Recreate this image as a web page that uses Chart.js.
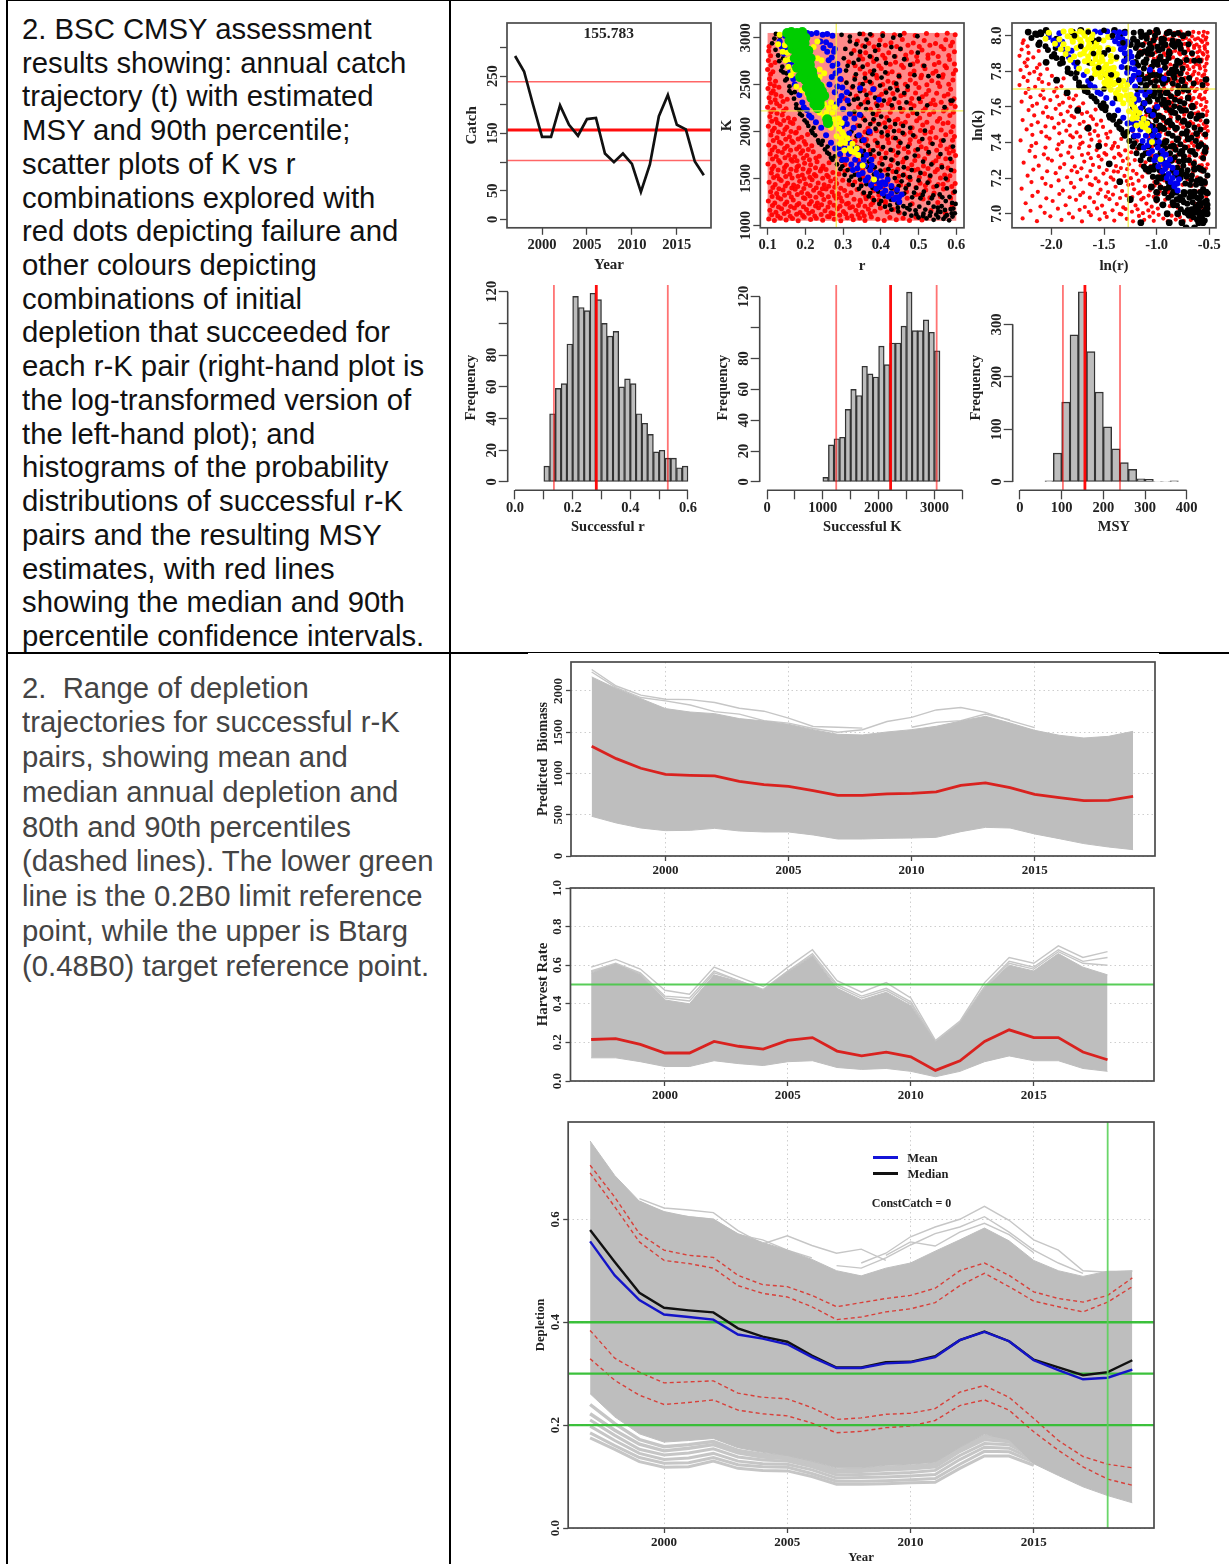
<!DOCTYPE html>
<html><head><meta charset="utf-8"><title>BSC CMSY assessment</title>
<script src="https://cdn.jsdelivr.net/npm/chart.js@4"></script>
<style>
html,body{margin:0;padding:0;background:#fff;width:1229px;height:1564px;overflow:hidden}
#page{position:relative;width:1229px;height:1564px}
canvas{position:absolute;filter:blur(.5px)}
.rule{position:absolute;background:#000}
.cell{position:absolute;left:22px;font-family:"Liberation Sans",Arial,sans-serif;font-size:29.3px;white-space:pre}
.lab{position:absolute;font:bold 12px "Liberation Serif",serif;color:#222;white-space:pre;transform:translate(-50%,-50%);filter:blur(.3px)}
</style></head><body><div id="page">
<div class="rule" style="left:6px;top:0;width:2px;height:1564px"></div>
<div class="rule" style="left:6px;top:0;width:1223px;height:1px"></div>
<div class="rule" style="left:449px;top:0;width:2px;height:1564px"></div>
<div class="rule" style="left:6px;top:652px;width:522px;height:2px"></div>
<div class="rule" style="left:528px;top:652px;width:631px;height:1px"></div>
<div class="rule" style="left:1159px;top:652px;width:70px;height:2px"></div>
<div class="cell" style="top:12px;line-height:33.72px;color:#111">2. BSC CMSY assessment
results showing: annual catch
trajectory (t) with estimated
MSY and 90th percentile;
scatter plots of K vs r
combinations explored with
red dots depicting failure and
other colours depicting
combinations of initial
depletion that succeeded for
each r-K pair (right-hand plot is
the log-transformed version of
the left-hand plot); and
histograms of the probability
distributions of successful r-K
pairs and the resulting MSY
estimates, with red lines
showing the median and 90th
percentile confidence intervals.</div>
<div class="cell" style="top:670.6px;line-height:34.75px;color:#444">2.  Range of depletion
trajectories for successful r-K
pairs, showing mean and
median annual depletion and
80th and 90th percentiles
(dashed lines). The lower green
line is the 0.2B0 limit reference
point, while the upper is Btarg
(0.48B0) target reference point.</div>
</div>
<script>
// ---------- catch panel ----------
const catchYears=[1997,1998,1999,2000,2001,2002,2003,2004,2005,2006,2007,2008,2009,2010,2011,2012,2013,2014,2015,2016,2017,2018];
const catchValues=[285,258,200,144,144,199,165,146,175,177,115,100,115,97,48,96,180,217,165,157,101,77];
const msyLines=[103,155.783,240];
const catchTitle="155.783";
// ---------- histograms: bin centres and counts ----------
const histRCentres=[.11,.13,.15,.17,.19,.21,.23,.25,.27,.29,.31,.33,.35,.37,.39,.41,.43,.45,.47,.49,.51,.53,.55,.57,.59];
const histRCounts=[10,43,59,62,87,117,110,108,119,115,100,92,95,60,65,62,43,37,30,19,20,15,15,9,10];
const histRLines=[.135,.282,.53];
const histKCentres=[1050,1150,1250,1350,1450,1550,1650,1750,1850,1950,2050,2150,2250,2350,2450,2550,2650,2750,2850,2950,3050];
const histKCounts=[3,24,28,29,47,60,56,75,70,68,88,76,90,90,101,123,98,98,105,97,85];
const histKLines=[1240,2215,3040];
const histMCentres=[70,90,110,130,150,170,190,210,230,250,270,290,310,330,350,370];
const histMCounts=[2,55,152,280,362,248,171,105,63,37,24,6,5,1,1,2];
const histMLines=[103,155.783,240];
// ---------- trajectories ----------
const years=[1997,1998,1999,2000,2001,2002,2003,2004,2005,2006,2007,2008,2009,2010,2011,2012,2013,2014,2015,2016,2017,2018,2019];
const bioUpper=[2170,2030,1907,1786,1745,1725,1665,1636,1596,1531,1475,1467,1503,1531,1572,1636,1693,1612,1523,1463,1430,1450,1511];
const bioLower=[481,400,339,307,311,335,303,291,291,255,206,206,214,218,226,295,347,339,267,210,150,109,77];
const bioMedian=[1329,1180,1063,990,978,970,905,865,844,792,735,735,752,760,776,857,885,828,747,707,671,675,723];
const bioOut1=[2260,2060,1950,1900,1895,1860,1790,1755,1670,1570,1560,1550];
const bioOut2=[null,null,null,null,null,null,null,null,null,null,1500,1530,1630,1680,1770,1800,1740,1640,1555];
const bioOut3=[2230,2040,1920,1880,1830,1750,1720,1640,1610,1545,1500];
const bioOut4=[null,null,null,null,null,null,null,null,null,null,null,null,null,1560,1620,1640,1720,1650];
const hrUpper=[.56,.605,.55,.42,.40,.55,.515,.47,.565,.645,.48,.42,.46,.39,.2,.3,.48,.6,.57,.66,.59,.55];
const hrLower=[.12,.12,.1,.075,.075,.105,.09,.08,.1,.105,.07,.06,.065,.05,.022,.05,.1,.13,.105,.105,.065,.05];
const hrMedian=[.215,.22,.19,.145,.145,.205,.18,.165,.21,.225,.155,.13,.15,.125,.055,.105,.205,.265,.225,.225,.15,.11];
const hrOut1=[.59,.63,.58,.47,.45,.59,.54,.49,.59,.68,.52,.46,.51,.43,.21,.31,.51,.64,.61,.70,.64,.67];
const hrOut2=[.57,.61,.56,.44,.43,.57,.52,.47,.57,.66,.5,.44,.48,.41,.205,.305,.49,.62,.59,.68,.62,.64];
const hrOut3=[.565,.605,.555,.43,.415,.56,.52,.475,.57,.65,.49,.43,.47,.4,.2,.3,.485,.61,.58,.67,.61,.6];
const hrLimit=[.5];
const depUpper=[.752,.685,.635,.615,.605,.6,.572,.555,.54,.522,.5,.49,.505,.515,.538,.56,.583,.558,.52,.5,.489,.499,.499];
const depLower=[.261,.216,.183,.167,.17,.174,.156,.147,.141,.13,.117,.117,.122,.124,.128,.157,.182,.172,.125,.102,.08,.063,.049];
const depMean=[.557,.491,.443,.415,.41,.405,.376,.368,.357,.332,.311,.311,.32,.322,.332,.365,.381,.363,.326,.307,.289,.292,.308];
const depMedian=[.579,.517,.457,.428,.423,.419,.388,.372,.362,.335,.312,.312,.322,.323,.334,.365,.382,.363,.327,.312,.297,.303,.326];
const depQ90hi=[.705,.643,.572,.54,.53,.526,.491,.473,.469,.452,.43,.438,.446,.452,.466,.5,.515,.491,.459,.446,.439,.452,.486];
const depQ80hi=[.69,.624,.556,.52,.514,.505,.471,.456,.449,.43,.405,.41,.42,.426,.438,.471,.495,.469,.441,.43,.42,.439,.469];
const depQ80lo=[.384,.33,.303,.282,.284,.286,.262,.254,.251,.234,.211,.214,.221,.223,.232,.264,.277,.254,.213,.17,.139,.124,.117];
const depQ90lo=[.329,.287,.258,.24,.244,.249,.229,.222,.218,.204,.185,.188,.195,.198,.209,.238,.249,.229,.187,.151,.119,.095,.083];
const depOut1=[null,null,.64,.622,.618,.613,.578,.552,.568,.549,.534,.542,.52];
const depOut2=[null,null,null,null,null,null,null,null,null,null,null,.515,.534,.566,.585,.6,.625,.598,.56,.54,.5,.497,.5];
const depOut3=[null,null,null,null,null,null,null,null,null,null,.51,.505,.525,.55,.572,.585,.605,.575,.54,.515,.495];
const depOut4=[null,null,.635,.612,.605,.6,.57,.56,.54,.525];
const depOut5=[null,null,null,null,null,null,null,null,null,null,null,null,.53,.556,.548,.575,.592,.57,.535];
const depLow1=[.175,.153,.129,.118,.119,.13,.116,.112,.111,.1,.085,.085,.086,.088,.089,.116,.14,.14,.122];
const depLow2=[.185,.16,.137,.126,.127,.137,.123,.119,.118,.106,.091,.091,.092,.094,.096,.124,.149,.148,.128];
const depLow3=[.198,.17,.145,.133,.136,.145,.13,.125,.124,.113,.097,.098,.099,.101,.104,.133,.157,.155,.133];
const depLow4=[.21,.18,.153,.142,.146,.154,.138,.132,.13,.119,.103,.104,.106,.108,.112,.141,.164,.162,.137];
const depLow5=[.222,.19,.163,.15,.155,.162,.146,.138,.135,.124,.109,.11,.113,.115,.119,.149,.172,.168,.14];
const depLow6=[.24,.203,.172,.158,.162,.168,.151,.143,.138,.127,.113,.114,.118,.12,.124,.154,.178,.172,.142];
const depRefLines=[.2,.3,.4];
const depRefYear=[2018];
// ---------- scatter points, read by eye: r x 1000, K, r x 1000, K ... ----------
const failRK=[
103,1068,118,1052,134,1081,149,1059,166,1074,181,1050,197,1088,214,1063,229,1077,246,1055,263,1092,277,1066,294,1051,311,1083,327,1060,344,1079,358,1054,375,1090,392,1067,409,1052,424,1085,441,1061,459,1076,476,1053,493,1089,509,1058,
106,1163,122,1142,137,1178,155,1150,171,1186,186,1139,203,1171,219,1148,235,1190,252,1158,268,1136,285,1177,301,1149,318,1188,334,1161,351,1141,367,1174,384,1153,399,1186,417,1144,433,1170,449,1135,
102,1262,119,1240,135,1281,151,1249,168,1272,183,1235,199,1288,216,1255,232,1239,249,1276,265,1246,281,1290,297,1258,314,1237,329,1279,346,1251,361,1284,379,1243,395,1268,412,1236,
108,1358,124,1340,141,1377,157,1346,173,1385,190,1352,206,1337,222,1374,238,1345,255,1388,271,1356,288,1339,304,1372,321,1350,337,1383,353,1342,
104,1461,120,1436,136,1478,153,1449,169,1430,185,1470,201,1442,218,1486,234,1453,250,1433,267,1475,283,1447,299,1482,316,1438,331,1464,
110,1560,126,1531,143,1574,159,1545,176,1586,192,1537,208,1568,224,1542,240,1581,257,1534,273,1565,289,1549,305,1578,
101,1655,117,1630,133,1672,150,1641,166,1684,182,1636,198,1662,214,1647,231,1680,247,1633,263,1669,
107,1761,123,1735,139,1778,156,1748,172,1731,188,1770,204,1744,221,1785,237,1738,
103,1856,119,1832,136,1875,152,1845,168,1883,184,1838,201,1866,217,1849,
109,1963,125,1934,141,1977,158,1946,174,1985,190,1939,206,1968,
102,2058,118,2035,134,2076,151,2047,167,2085,183,2039,
106,2161,122,2132,139,2177,155,2144,171,2130,
100,2259,116,2236,132,2272,149,2243,
104,2361,120,2338,136,2377,152,2345,
101,2458,115,2434,130,2472,
105,2563,121,2536,
100,2661,114,2638,
102,2758,120,2735,
103,2859,
345,1268,378,1292,412,1255,447,1248,483,1231,512,1282,533,1160,551,1245,571,1132,589,1207,
381,1370,402,1345,436,1392,468,1360,493,1331,519,1379,541,1345,566,1388,592,1350,
365,1480,391,1440,417,1465,452,1432,478,1488,504,1450,528,1472,552,1436,577,1485,597,1447,
338,1552,371,1585,401,1540,432,1576,461,1544,489,1588,516,1550,544,1572,569,1538,594,1581,
305,1650,341,1682,362,1640,397,1665,426,1635,458,1677,482,1648,513,1633,538,1668,561,1640,588,1680,
293,1745,324,1780,356,1750,382,1735,414,1772,441,1748,473,1781,499,1740,526,1766,553,1733,581,1772,598,1745,
296,1862,333,1840,359,1875,392,1848,421,1882,447,1845,476,1868,507,1838,532,1880,558,1852,585,1835,
316,1960,348,1941,373,1978,403,1950,433,1935,462,1971,491,1945,517,1982,546,1938,572,1966,595,1948,
338,2065,366,2035,397,2078,425,2048,454,2082,483,2042,511,2070,537,2040,565,2085,591,2055,
329,2170,354,2140,388,2178,416,2150,445,2132,472,2168,503,2145,529,2183,556,2138,583,2172,
341,2262,373,2238,402,2280,431,2250,459,2235,488,2276,518,2245,544,2285,573,2240,597,2268,
305,2352,335,2378,364,2345,395,2370,424,2340,453,2382,482,2352,510,2372,539,2336,568,2378,594,2350,
324,2470,356,2438,383,2462,413,2435,442,2478,471,2445,501,2468,527,2436,556,2480,585,2450,
296,2552,331,2578,361,2540,390,2570,419,2535,449,2582,478,2548,506,2572,535,2540,563,2578,591,2548,
345,2665,372,2640,401,2672,430,2638,460,2682,488,2645,517,2668,546,2642,574,2680,598,2652,
315,2740,352,2772,381,2745,411,2780,439,2738,468,2770,497,2748,525,2782,554,2736,582,2768,
329,2862,360,2838,393,2870,421,2840,452,2880,481,2845,509,2868,538,2835,567,2878,595,2850,
338,2965,368,2940,398,2975,427,2945,457,2980,486,2942,515,2970,545,2938,572,2978,590,2950,
353,3040,376,3025,405,3045,436,3030,462,3048,491,3022,521,3044,549,3028,576,3046,597,3030];
const failRK2=[
111,1115,127,1102,144,1128,160,1098,177,1121,193,1107,209,1130,225,1101,242,1118,259,1096,274,1126,291,1109,307,1124,323,1100,340,1117,356,1103,372,1129,
113,1212,129,1196,146,1225,161,1203,178,1218,195,1200,211,1228,227,1207,243,1221,260,1198,276,1215,292,1204,309,1230,325,1199,341,1214,358,1206,374,1222,
112,1310,128,1297,145,1322,163,1304,179,1329,195,1295,212,1315,228,1300,244,1328,261,1306,277,1318,293,1296,310,1320,
114,1405,130,1392,147,1420,164,1398,180,1415,196,1394,213,1425,229,1402,245,1391,262,1417,278,1408,294,1396,
116,1510,131,1495,148,1522,165,1505,181,1525,197,1498,212,1515,228,1528,246,1503,261,1520,279,1496,
112,1605,128,1590,145,1618,162,1598,178,1622,194,1602,211,1590,227,1615,243,1604,255,1596,
113,1708,129,1692,146,1722,162,1703,178,1690,195,1716,211,1700,228,1718,
112,1805,128,1790,145,1820,161,1800,177,1815,193,1795,208,1808,
115,1905,131,1890,148,1918,164,1900,181,1922,197,1895,
113,2010,129,1995,146,2022,162,2002,176,1992,
111,2110,126,2095,143,2118,160,2100,
109,2210,125,2195,142,2218,
108,2312,124,2298,141,2320,
110,2410,122,2395,
107,2510,118,2488,
108,2610,
109,2705,
108,2808,
104,2905,
360,1310,395,1322,430,1300,470,1290,505,1328,530,1295,558,1308,585,1292,
348,1435,378,1420,405,1412,442,1475,468,1418,493,1405,518,1425,540,1410,565,1440,588,1415,
352,1520,385,1512,418,1508,448,1525,472,1510,502,1515,530,1520,558,1505,583,1530,
320,1610,352,1598,380,1605,412,1592,445,1600,472,1608,498,1600,525,1606,550,1595,578,1612,
310,1710,338,1700,372,1692,402,1715,432,1695,462,1708,490,1692,516,1712,546,1690,572,1710,
318,1810,345,1820,372,1800,402,1815,432,1798,462,1818,492,1802,520,1820,548,1800,575,1815,592,1792,
332,1900,362,1915,385,1905,418,1920,448,1898,478,1912,502,1895,530,1925,560,1902,590,1908,
358,1995,388,2010,418,1998,448,2008,478,1992,505,2012,532,1995,560,2018,586,1998,
380,2110,410,2095,438,2112,465,2098,495,2115,522,2100,550,2110,578,2095,
395,2220,425,2205,455,2215,485,2200,512,2222,540,2208,566,2218,592,2205,
358,2315,388,2300,420,2298,448,2310,478,2302,505,2318,532,2295,560,2312,586,2300,
372,2410,402,2398,432,2405,462,2395,492,2412,520,2398,548,2408,578,2398,
345,2505,375,2515,405,2500,435,2520,465,2505,492,2512,522,2498,552,2518,580,2505,
358,2615,388,2600,418,2618,448,2602,478,2612,508,2600,538,2620,565,2605,592,2615,
332,2700,365,2715,395,2702,425,2718,455,2705,485,2720,512,2700,542,2715,570,2702,595,2720,
345,2810,375,2795,405,2812,438,2798,466,2815,495,2800,525,2815,552,2798,580,2810,
352,2915,382,2902,412,2918,442,2905,472,2920,502,2905,530,2920,560,2905,585,2915];
const blackRK=[
118,2990,112,2940,121,2870,128,2810,131,2750,139,2690,142,2630,151,2560,158,2480,163,2410,170,2350,176,2290,184,2230,191,2170,198,2120,208,2060,216,2010,226,1960,234,1905,243,1860,252,1810,263,1760,272,1700,284,1650,293,1600,304,1540,316,1480,326,1430,342,1390,355,1350,368,1310,382,1270,396,1230,411,1200,428,1170,446,1150,463,1125,481,1105,500,1085,521,1075,540,1060,552,1085,566,1070,581,1055,590,1095,596,1130,575,1110,547,1115,558,1145,
122,3040,132,3010,141,2780,150,2620,172,2420,193,2240,222,2040,246,1900,259,1840,278,1735,298,1630,322,1520,348,1420,372,1345,401,1260,424,1215,445,1190,470,1185,492,1160,513,1125,532,1140,561,1205,585,1175,598,1230,
296,3030,318,3010,344,3040,372,3035,405,3020,433,3000,451,3025,497,3015,318,2960,335,2930,362,2980,395,2920,428,2900,452,2880,306,2880,322,2830,345,2850,371,2800,389,2770,436,2800,478,2710,302,2780,328,2730,352,2690,382,2650,412,2630,448,2590,489,2600,526,2590,
308,2650,334,2610,358,2570,371,2530,398,2490,425,2460,444,2440,462,2410,501,2350,590,2330,309,2520,326,2480,345,2430,362,2390,385,2360,408,2330,429,2280,451,2250,480,2240,
318,2400,329,2340,347,2290,361,2240,379,2190,401,2160,422,2120,438,2080,459,2060,478,2040,517,2010,348,2170,358,2120,372,2080,386,2030,402,1990,418,1960,439,1930,452,1880,472,1840,498,1810,527,1780,558,1760,584,1710,
322,2000,336,1950,349,1900,366,1850,380,1800,395,1765,412,1720,428,1700,445,1660,461,1620,482,1590,505,1560,531,1530,572,1500,352,1740,368,1680,384,1620,399,1585,418,1540,437,1505,455,1470,474,1435,494,1400,514,1360,539,1320,563,1300,589,1240,
442,1360,462,1340,483,1300,505,1290,526,1240,551,1190,570,1165,592,1180,478,1220,502,1200,518,1170,540,1200,572,1260,498,2840,515,2700,569,2260,585,2330,553,2590];
const blackRK2=[
312,2700,341,2765,358,2905,385,2860,414,2730,462,2770,331,2555,352,2505,378,2610,402,2575,441,2510,471,2480,316,2290,339,2350,366,2310,391,2275,414,2415,436,2350,468,2310,496,2190,523,2280,
330,2210,344,2060,366,1985,381,2130,394,2080,412,2045,435,2005,458,1985,486,1960,510,1920,537,1870,566,1905,591,1840,
338,1830,355,1795,372,1760,391,1880,406,1835,426,1805,446,1775,468,1720,490,1745,512,1680,534,1650,562,1620,586,1590,
366,1620,382,1545,404,1650,420,1600,441,1570,459,1535,477,1515,500,1480,524,1455,548,1420,575,1395,596,1360,
388,1480,408,1455,428,1395,447,1420,466,1395,488,1350,511,1325,535,1290,556,1330,582,1305,
296,1690,312,1590,331,1540,345,1490,362,1440,378,1400,393,1360,410,1310,427,1275,444,1235,460,1205,476,1170,494,1120,512,1100,530,1105,552,1150,571,1095,588,1130,
258,1775,268,1720,236,1880,219,1985,204,2095,186,2185,176,2250,158,2430,147,2545,136,2650];
const blueRK=[
146,3020,138,2900,152,2760,160,2640,172,2500,184,2390,192,2310,204,2230,216,2150,228,2100,242,2040,255,1960,268,1880,279,1820,292,1760,308,1700,322,1650,338,1610,352,1560,366,1510,381,1470,398,1410,412,1370,428,1340,441,1300,449,1250,
205,3050,216,3040,230,3050,246,3030,258,3040,272,3020,240,2960,255,2950,266,2920,278,2880,258,2850,270,2790,285,2720,272,2700,280,2620,293,2560,270,2580,285,2480,298,2470,310,2420,296,2380,312,2330,283,2290,300,2240,318,2190,330,2140,344,2180,
310,2080,328,2040,342,1960,355,1910,318,1880,330,1830,346,1790,362,1750,375,1700,344,1650,358,1640,372,1590,388,1560,402,1530,418,1490,396,1450,412,1440,428,1420,443,1380,455,1330,370,2000,380,2450,395,2340,345,2460,
248,2890,262,2760,276,2850,290,2650,264,2500,278,2420,291,2330,306,2140,298,2060,316,1980,304,1820,288,1830,298,1700,315,1760,332,1700,326,1590,342,1540,360,1480,374,1430,388,1390,405,1340,420,1310,435,1280,448,1300,405,1460,389,1510,376,1640,355,1700,210,2170,196,2260,168,2560,156,2700,143,2830,132,2960,150,2880,164,2740];
const yellowRK=[
128,2930,132,3030,140,2850,148,2760,155,2690,162,2600,176,2480,190,2440,205,2400,238,2660,232,2780,222,2900,238,2580,252,2400,
226,2240,238,2200,250,2160,262,2250,272,2200,282,2080,290,2030,298,1990,283,1950,295,1920,305,1880,318,1820,330,1780,340,1750,325,1870,262,2120,276,2130,250,2290,
352,1640,382,1490,230,2310,244,2270,256,2200,268,2310,278,2260,245,2490,250,2620,243,2760,232,2960,146,2920,152,2840,158,2770,168,2650,288,2140,296,2090,302,1960,312,1930,292,1870,304,1800,322,1790,336,1820,268,2040];
const greenRK=[
152,3050,163,3060,178,3050,192,3060,158,2970,172,2960,186,2980,198,2940,166,2880,180,2860,194,2840,208,2860,172,2780,186,2750,200,2760,214,2780,178,2680,192,2650,206,2660,218,2640,186,2580,200,2550,214,2570,228,2530,204,2470,218,2440,232,2460,244,2430,216,2360,230,2340,242,2370,224,2290,238,2280,260,2090,258,2130,
170,3010,184,3020,200,3000,165,2930,178,2910,192,2910,205,2800,178,2820,192,2790,184,2700,198,2700,212,2710,192,2600,206,2610,220,2590,210,2510,224,2490,238,2480,212,2410,226,2400,238,2320,232,2250,250,2380];
const lnExtraBlack=[
-125,795,-120,785,-115,790,-110,800,-105,793,-100,785,-95,798,-125,775,-118,770,-110,772,-102,768,-95,775,-88,790,-84,778,-122,760,-112,752,-104,745,-98,755,-92,762,-86,750,-80,768,-115,738,-100,732,-92,740,-86,730,-80,742,-74,752,-110,725,-96,720,-88,715,-82,722,-76,735,-70,742,-90,700,-84,705,-78,708,-72,722,-66,735,-62,745,-82,690,-76,695,-70,700,-64,712,-58,725,-54,735,-70,688,-64,692,-58,700,-53,712,-60,705,-56,690,-52,705,-65,702,-60,695,-130,802,-140,803,-150,790,-160,797,-172,803,-180,802,-164,785,-148,778,-138,765,-135,800,-115,802,-100,803,-88,802,-75,800,-76,775,-70,765,-80,785,-92,775,-105,778,
-128,788,-122,798,-117,778,-112,785,-108,765,-103,757,-98,792,-93,785,-90,768,-85,757,-82,795,-78,785,-74,770,-120,750,-108,738,-103,725,-94,748,-90,728,-84,738,-78,722,-74,730,-72,745,-68,755,-105,715,-100,708,-94,705,-88,695,-84,712,-80,700,-74,712,-68,712,-64,725,-60,738,-58,712,-55,718,-78,690,-72,692,-66,685,-60,682,-56,695,-52,700,-100,712,-96,730,-88,752,-82,748,-76,758,-70,750,-66,760,-60,755,-118,795,-108,790,-98,778,-92,795,-85,795,-78,795,-112,762,-125,765,-118,755,-210,801,-215,801,-205,803,-222,802,-195,798,-212,795,-205,785,-195,775,-185,768,-175,758,-165,748,-155,738,-145,728,-135,718,-125,708,-115,695,-105,685,-95,672,-85,660,-75,650,-65,710,-62,702];
const lnTopBlack=[-178,800,-172,794,-165,802,-160,790,-155,798,-150,803,-146,792,-142,800,-138,788,-132,796,-175,785,-162,776,-155,782,-150,770,-143,778,-136,775,-128,782,-148,760];
const crossR=[.282],crossK=[2220],crossLnR=[-1.27],crossLnK=[7.7];
const scatterFailBox=[.1,.6,1050,3050];
// ---------- tick lists ----------
const catchXTicks=[2000,2005,2010,2015];
const catchYTicks=[0,50,100,150,200,250,300],catchYLabels=[0,50,150,250];
const rXTicks=[.1,.2,.3,.4,.5,.6];
const kYTicks=[1000,1500,2000,2500,3000];
const lnRTicks=[-2,-1.5,-1,-.5];
const lnKTicks=[7,7.2,7.4,7.6,7.8,8];
const freqYTicks=[0,20,40,60,80,100,120],freqYLabels=[0,20,40,60,80,120];
const histRXTicks=[0,.1,.2,.3,.4,.5,.6],histRXLabels=[0,.2,.4,.6];
const histKXTicks=[0,500,1000,1500,2000,2500,3000,3500],histKXLabels=[0,1000,2000,3000];
const histMXTicks=[0,100,200,300,400],histMYTicks=[0,100,200,300];
const bioYTicks=[0,500,1000,1500,2000];
const hrYTicks=[0,.2,.4,.6,.8,1];
const depYTicks=[0,.2,.4,.6];

const SERIF='"Liberation Serif","Times New Roman",serif';
const page=document.getElementById('page');
const measure=document.createElement('canvas').getContext('2d');
const zip=(xs,ys)=>ys.map((y,i)=>({x:xs[i],y}));
const rk=a=>{const o=[];for(let i=0;i+1<a.length;i+=2)o.push({x:a[i]/1000,y:a[i+1]});return o;};
const lnrk=a=>rk(a).map(p=>({x:Math.log(p.x),y:Math.log(p.y)}));
const ln100=a=>{const o=[];for(let i=0;i+1<a.length;i+=2)o.push({x:a[i]/100,y:a[i+1]/100});return o;};
const hline=(v,xl)=>[{x:xl[0],y:v},{x:xl[1],y:v}];
const vline=(v,yl)=>[{x:v,y:yl[0]},{x:v,y:yl[1]}];
const line=(data,color,w,extra)=>Object.assign({type:'line',data,borderColor:color,borderWidth:w,pointRadius:0,tension:0,fill:false},extra||{});
const dots=(data,color,r)=>({type:'scatter',data,backgroundColor:color,pointRadius:r,pointBorderWidth:0,pointHoverRadius:r});

function panel(c){
  const tf=c.titleFont||15,lh=tf*1.2,[l,t,r,b]=c.plot;
  const cl=c.yTitleX-lh/2, ct=Math.max(0,t-16), cr=r+14;
  const cb=c.xTitleY?c.xTitleY+lh/2:b+c.xH;
  const cv=document.createElement('canvas');
  cv.width=Math.round(cr-cl);cv.height=Math.round(cb-ct);
  cv.style.left=cl+'px';cv.style.top=ct+'px';
  page.appendChild(cv);
  const tickFont=c.tickFont||14.5;
  const fy=c.fmtY||String,fx=c.fmtX||String;
  const yLabs=c.yLabels||c.yTicks,xLabs=c.xLabels||c.xTicks;
  measure.font=`bold ${tickFont}px ${SERIF}`;
  const widest=Math.max(...yLabs.map(v=>measure.measureText(fy(v)).width));
  const yTL=c.yTL??7,xTL=c.xTL??7;
  const gridOn=!!c.grid;
  const gridCfg=(tl)=>({offset:false,drawOnChartArea:gridOn,color:'rgba(190,190,190,.75)',lineWidth:1,drawTicks:true,tickLength:tl,tickColor:'#444',tickWidth:1.3});
  const border=gridOn?{display:false,dash:[1.5,3]}:{display:false};
  const axisPlug={id:'rFrame',afterDatasetsDraw(ch){
    const g=ch.ctx,a=ch.chartArea;g.save();g.strokeStyle=c.frameColor||'#4a4a4a';g.lineWidth=c.frameW||1.7;
    if(c.frame){g.strokeRect(a.left,a.top,a.right-a.left,a.bottom-a.top);}
    else{
      const ys=ch.scales.y,xs=ch.scales.x;g.beginPath();
      g.moveTo(a.left,ys.getPixelForValue(c.yTicks[0]));g.lineTo(a.left,ys.getPixelForValue(c.yTicks[c.yTicks.length-1]));
      g.moveTo(xs.getPixelForValue(c.xTicks[0]),a.bottom);g.lineTo(xs.getPixelForValue(c.xTicks[c.xTicks.length-1]),a.bottom);
      g.stroke();
    }
    g.restore();}};
  const bgPlug={id:'rBack',beforeDatasetsDraw(ch){
    if(!c.backBox)return;const g=ch.ctx,x=ch.scales.x,y=ch.scales.y,B=c.backBox;g.save();g.fillStyle=c.backColor;
    g.fillRect(x.getPixelForValue(B[0]),y.getPixelForValue(B[3]),x.getPixelForValue(B[1])-x.getPixelForValue(B[0]),y.getPixelForValue(B[2])-y.getPixelForValue(B[3]));g.restore();}};
  return new Chart(cv,{
    type:c.type||'line',
    data:{datasets:c.datasets},
    plugins:[bgPlug,axisPlug],
    options:{
      responsive:false,animation:false,devicePixelRatio:1,events:[],
      layout:{autoPadding:false,padding:{left:0,bottom:0,top:t-ct,right:cr-r}},
      plugins:{legend:{display:false},tooltip:{enabled:false},title:{display:false}},
      elements:{bar:{borderSkipped:false}},
      scales:{
        x:{type:'linear',min:c.xLim[0],max:c.xLim[1],offset:false,
          afterBuildTicks:s=>{s.ticks=c.xTicks.map(v=>({value:v}));},
          afterFit:s=>{s.height=cb-b;},
          grid:gridCfg(xTL),border,
          title:{display:!!c.xTitle,text:c.xTitle,color:'#222',font:{family:SERIF,weight:'bold',size:tf},padding:0},
          ticks:{autoSkip:false,maxRotation:0,minRotation:0,padding:c.xPad??2,color:'#222',font:{family:SERIF,weight:'bold',size:tickFont},
            callback:v=>xLabs.some(k=>Math.abs(k-v)<1e-9)?fx(v):''}},
        y:{type:'linear',min:c.yLim[0],max:c.yLim[1],
          afterBuildTicks:s=>{s.ticks=c.yTicks.map(v=>({value:v}));},
          afterFit:s=>{s.width=l-cl;},
          grid:gridCfg(yTL),border,
          title:{display:true,text:c.yTitle,color:'#222',font:{family:SERIF,weight:'bold',size:tf},padding:0},
          ticks:{autoSkip:false,minRotation:90,maxRotation:90,crossAlign:'center',padding:(c.yOff??14)-yTL-widest/2,color:'#222',font:{family:SERIF,weight:'bold',size:tickFont},
            callback:v=>yLabs.some(k=>Math.abs(k-v)<1e-9)?fy(v):''}}
      }
    }
  });
}
const f1=v=>Number(v).toFixed(1);

// ---------- top row ----------
const catchX=[1996.1,2018.8],catchY=[-14.5,342.5];
panel({plot:[506.7,23.3,711,228.3],frame:true,xLim:catchX,yLim:catchY,yTitleX:471.7,xTitleY:265.5,yTitle:'Catch',xTitle:'Year',xTicks:catchXTicks,yTicks:catchYTicks,yLabels:catchYLabels,
  datasets:[
    line(zip(catchYears,catchValues),'#111',2.7),
    line(hline(msyLines[1],catchX),'rgba(255,0,0,.95)',3),
    line(hline(msyLines[0],catchX),'rgba(255,0,0,.6)',1.5),
    line(hline(msyLines[2],catchX),'rgba(255,0,0,.6)',1.5)
  ]});
const rkX=[.0807,.6204],rkY=[975.5,3156];
panel({type:'scatter',plot:[760,23.3,964,228.3],frame:true,xLim:rkX,yLim:rkY,yTitleX:726.7,xTitleY:266.5,yTitle:'K',xTitle:'r',xTicks:rXTicks,yTicks:kYTicks,fmtX:f1,
  backBox:scatterFailBox,backColor:'rgba(255,40,40,.55)',
  datasets:[
    line(vline(crossR[0],rkY),'rgba(240,240,60,.8)',1.4),
    line(hline(crossK[0],rkX),'rgba(240,240,60,.8)',1.4),
    dots(rk(greenRK),'#00cd00',5),
    dots(rk(yellowRK),'#ffff00',3),
    dots(rk(blueRK),'#0000f0',3),
    dots(rk(blackRK),'#000',2.4),
    dots(rk(blackRK2),'#000',2.4),
    dots(rk(failRK),'rgba(255,0,0,.95)',2.5),
    dots(rk(failRK2),'rgba(255,0,0,.95)',2.5)
  ]});
const lnX=[-2.374,-.436],lnY=[6.921,8.071];
panel({type:'scatter',plot:[1012.3,23.3,1216.7,228.3],frame:true,xLim:lnX,yLim:lnY,yTitleX:978.3,xTitleY:266.5,yTitle:'ln(k)',xTitle:'ln(r)',xTicks:lnRTicks,yTicks:lnKTicks,fmtX:f1,fmtY:f1,yOff:15,
  datasets:[
    line(vline(crossLnR[0],lnY),'rgba(240,240,60,.8)',1.4),
    line(hline(crossLnK[0],lnX),'rgba(240,240,60,.8)',1.4),
    dots(ln100(lnTopBlack),'#000',2.8),
    dots(lnrk(greenRK),'#ffff00',3),
    dots(lnrk(yellowRK),'#ffff00',3),
    dots(lnrk(blueRK),'#0000f0',3),
    dots(ln100(lnExtraBlack),'#000',3.4),
    dots(lnrk(blackRK),'#000',3),
    dots(lnrk(blackRK2),'#000',3),
    dots(lnrk(failRK),'rgba(255,0,0,.95)',2.1),
    dots(lnrk(failRK2),'rgba(255,0,0,.95)',2.1)
  ]});

// ---------- histograms ----------
function hist(c,centres,counts,stats){
  c.type='bar';c.frame=false;c.titleFont=14.5;c.xTL=9;c.yTL=9;c.xPad=0;c.yOff=15;c.frameColor='#444';c.frameW=1.6;
  c.datasets=[
    line(vline(stats[1],c.yLim),'rgba(255,0,0,.95)',2.8),
    line(vline(stats[0],c.yLim),'rgba(255,0,0,.55)',1.8),
    line(vline(stats[2],c.yLim),'rgba(255,0,0,.55)',1.8),
    {type:'bar',data:zip(centres,counts),backgroundColor:'#bdbdbd',borderColor:'#333',borderWidth:1.4,barPercentage:1,categoryPercentage:1,grouped:false}
  ];
  panel(c);
}
hist({plot:[507.7,285,708,490],xLim:[-.0253,.6694],yLim:[-5.24,124.2],yTitleX:471.7,xTitleY:527,yTitle:'Frequency',xTitle:'Successful r',xTicks:histRXTicks,xLabels:histRXLabels,yTicks:freqYTicks,yLabels:freqYLabels,fmtX:f1},histRCentres,histRCounts,histRLines);
hist({plot:[760,285,965,490],xLim:[-131,3548],yLim:[-5.38,127.6],yTitleX:724,xTitleY:527,yTitle:'Frequency',xTitle:'Successful K',xTicks:histKXTicks,xLabels:histKXLabels,yTicks:freqYTicks,yLabels:freqYLabels},histKCentres,histKCounts,histKLines);
hist({plot:[1012.7,285,1215,490],xLim:[-17.5,467.9],yLim:[-15.8,374.9],yTitleX:976.7,xTitleY:527,yTitle:'Frequency',xTitle:'MSY',xTicks:histMXTicks,yTicks:histMYTicks},histMCentres,histMCounts,histMLines);

// ---------- biomass ----------
const gray='#bebebe',outGray='#c6c6c6';
const bioX=[1996.16,2019.89],bioY=[0,2351];
panel({plot:[570.6,661.7,1154.5,855.7],frame:true,grid:true,xLim:bioX,yLim:bioY,yTitleX:543,xH:28,yTitle:'Predicted  Biomass',titleFont:14,tickFont:13,xTicks:catchXTicks,yTicks:bioYTicks,yOff:12.5,yTL:5,xTL:5,xPad:2,
  datasets:[
    line(zip(years,bioMedian),'#d9221f',2.8),
    line(zip(years,bioUpper),gray,1,{fill:{target:'+1',above:gray,below:gray}}),
    line(zip(years,bioLower),gray,1),
    line(zip(years,bioOut1),outGray,1.4),line(zip(years,bioOut2),outGray,1.4),
    line(zip(years,bioOut3),outGray,1.4),line(zip(years,bioOut4),outGray,1.4)
  ]});
// ---------- harvest rate ----------
const hrX=[1996.16,2019.89],hrY=[0,1];
panel({plot:[570.6,887.7,1154.5,1081],frame:true,grid:true,xLim:hrX,yLim:hrY,yTitleX:543,xH:28,yTitle:'Harvest Rate',titleFont:14.8,tickFont:13,xTicks:catchXTicks,yTicks:hrYTicks,fmtY:f1,yOff:12.5,yTL:5,xTL:5,xPad:2,
  datasets:[
    line(hline(hrLimit[0],hrX),'rgba(70,200,70,.9)',1.8),
    line(zip(catchYears,hrMedian),'#d9221f',2.8),
    line(zip(catchYears,hrUpper),gray,1,{fill:{target:'+1',above:gray,below:gray}}),
    line(zip(catchYears,hrLower),gray,1),
    line(zip(catchYears,hrOut1),outGray,1.4),line(zip(catchYears,hrOut2),outGray,1.4),line(zip(catchYears,hrOut3),outGray,1.4)
  ]});
// ---------- depletion ----------
const depX=[1996.11,2019.88],depY=[0,.789];
const dash=()=>({borderDash:[4,3]});
panel({plot:[568.5,1121.7,1154.5,1527.7],frame:true,grid:true,xLim:depX,yLim:depY,yTitleX:541,xTitleY:1557,yTitle:'Depletion',xTitle:'Year',titleFont:12.8,tickFont:13,xTicks:catchXTicks,yTicks:depYTicks,fmtY:f1,yOff:12.5,yTL:5,xTL:5,xPad:2,
  datasets:[
    line(vline(depRefYear[0],depY),'rgba(90,210,90,.9)',1.8),
    line(zip(years,depMean),'#1414c8',2.4),
    line(zip(years,depMedian),'#111',2.4),
    ...depRefLines.map(v=>line(hline(v,depX),'rgba(50,190,50,.95)',2.4)),
    line(zip(years,depQ90hi),'#d8403a',1.4,dash()),
    line(zip(years,depQ80hi),'#d8403a',1.4,dash()),
    line(zip(years,depQ80lo),'#d8403a',1.4,dash()),
    line(zip(years,depQ90lo),'#d8403a',1.4,dash()),
    line(zip(years,depUpper),gray,1,{fill:{target:'+1',above:gray,below:gray}}),
    line(zip(years,depLower),gray,1),
    line(zip(years,depOut1),outGray,1.4),line(zip(years,depOut2),outGray,1.4),line(zip(years,depOut3),outGray,1.4),line(zip(years,depOut4),outGray,1.4),line(zip(years,depOut5),outGray,1.4),
    line(zip(years,depLow1),outGray,3),line(zip(years,depLow2),outGray,3),line(zip(years,depLow3),outGray,3),line(zip(years,depLow4),outGray,3),line(zip(years,depLow5),outGray,3.4),line(zip(years,depLow6),outGray,3.4)
  ]});
// ---------- overlaid labels ----------
function lab(text,x,y,size){const d=document.createElement('div');d.className='lab';d.textContent=text;d.style.left=x+'px';d.style.top=y+'px';if(size)d.style.fontSize=size+'px';page.appendChild(d);}
function key(x,y,w,col){const d=document.createElement('div');d.style.cssText=`position:absolute;left:${x}px;top:${y}px;width:${w}px;height:3px;background:${col};filter:blur(.3px)`;page.appendChild(d);}
lab(catchTitle,608.8,33,15.5);
key(872.5,1155.5,25,'#1414d8');key(872.5,1171.5,25,'#111');
lab('Mean',922.5,1158,12.5);lab('Median',928,1173.5,12.5);lab('ConstCatch = 0',911.5,1202.5,12);
</script></body></html>
